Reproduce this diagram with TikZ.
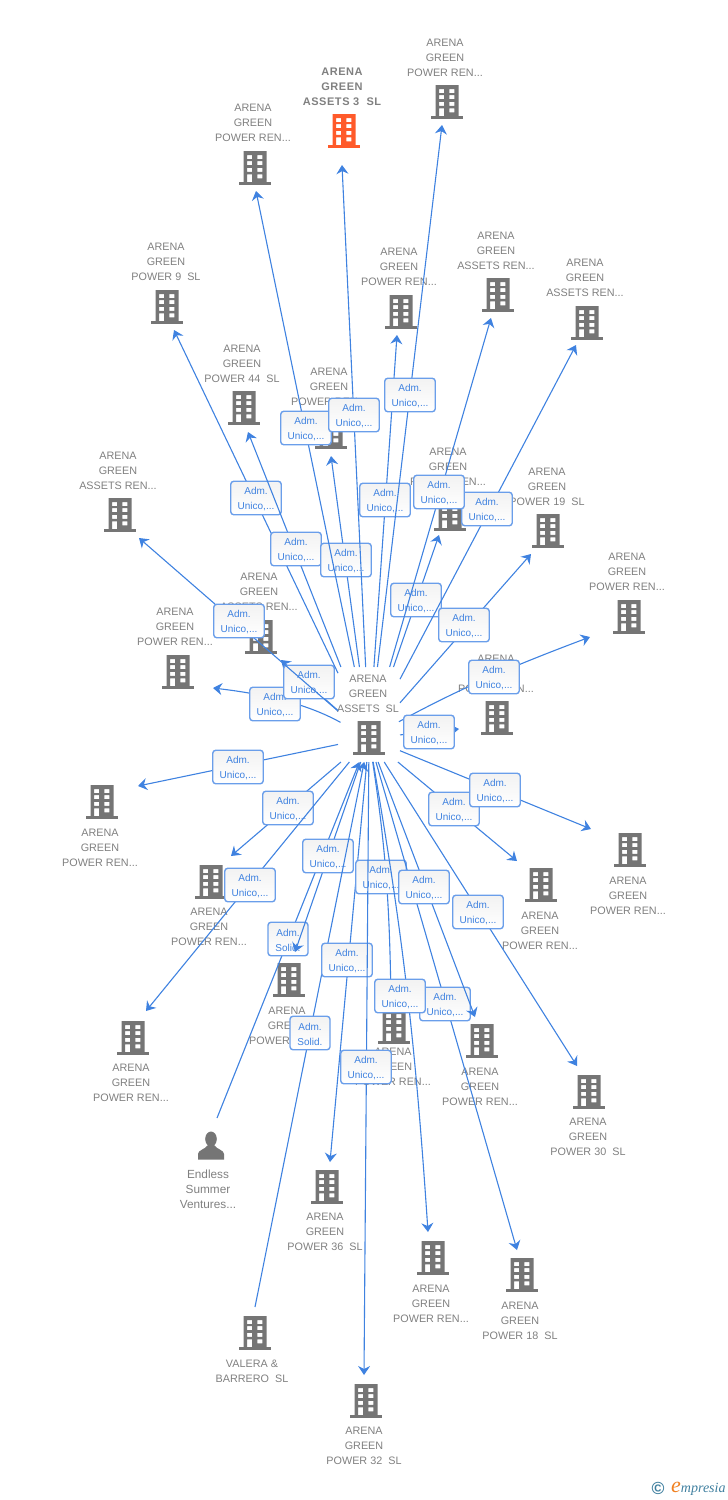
\documentclass[tikz,border=0pt]{standalone}
\usepackage{fontspec}
\setmainfont{Liberation Sans}
\newfontfamily\logofont{Liberation Serif}
\usetikzlibrary{arrows.meta}
\definecolor{linkblue}{HTML}{3F82E0}
\definecolor{boxedge}{HTML}{6A9EEA}
\definecolor{labelgray}{HTML}{808080}
\definecolor{icongray}{HTML}{757575}
\definecolor{iconorange}{HTML}{FF5A2A}
\definecolor{logoblue}{HTML}{3F7F9F}
\definecolor{logoorange}{HTML}{F08020}
\tikzset{
  name label/.style={text=labelgray,font=\fontsize{10.8}{15}\selectfont,align=center,inner sep=0pt,yshift=-1pt},
  owner label/.style={name label,font=\fontsize{11.8}{15}\selectfont},
  main label/.style={text=labelgray,font=\fontsize{11}{15}\selectfont\bfseries\addfontfeature{LetterSpace=5},align=center,inner sep=0pt,yshift=-1pt},
  iconspot/.style={minimum width=32pt,minimum height=34pt,inner sep=0pt},
  link/.style={draw=linkblue,line width=1.1pt,-{Stealth[length=9pt,width=12pt,inset=3pt]}},
  tag/.style={draw=boxedge,line width=1.4pt,rounded corners=3pt,top color=black!5,bottom color=white,
    minimum width=50.5pt,minimum height=33.5pt,inner sep=0pt,text=linkblue,align=center,
    font=\fontsize{10}{15}\selectfont},
  solidtag/.style={tag,minimum width=40pt}
}
% building icon: name, x, y, colour
\newcommand{\bldg}[4]{%
  \node[iconspot] (#1) at (#2,#3) {};
  \begin{scope}[shift={(#1.center)}]
    \fill[#4,even odd rule]
      (-11.5,-17) rectangle (11.5,14)
      (-7.8,-13) rectangle (-2.8,-9) (2.3,-13) rectangle (7.3,-9)
      (-7.8,-7) rectangle (-2.8,-3) (2.3,-7) rectangle (7.3,-3)
      (-7.8,-0.2) rectangle (-2.8,3.8) (2.3,-0.2) rectangle (7.3,3.8)
      (-7.8,6.3) rectangle (-2.8,14) (2.3,6.3) rectangle (7.3,10.3);
    \fill[#4] (-16,14) rectangle (16,17);
  \end{scope}}
% start distance of a connector from the hub icon centre
\newcommand{\hubgap}[2]{%
  \pgfmathsetmacro{\ddx}{abs(#1-369)+0.01}%
  \pgfmathsetmacro{\ddy}{abs(#2-738)+0.01}%
  \pgfmathsetmacro{\tlim}{min(31/\ddx,(#2<738?71:24)/\ddy)}%
  \pgfmathsetmacro{\hgap}{\tlim*veclen(\ddx,\ddy)}}
% outgoing connector: [to options] id, tip x, tip y, box x, box y
\newcommand{\lnk}[6][]{%
  \hubgap{#3}{#4}%
  \coordinate (tip#2) at (#3,#4);
  \draw[link,shorten <=\hgap pt] (hub.center) to[#1] (tip#2);
  \node[tag] (box#2) at (#5,#6) {\rule{0pt}{9.3pt}Adm.\\Unico,...};}
% incoming connector: id, start x, start y, box x, box y, box text
\newcommand{\inlnk}[6]{%
  \hubgap{#2}{#3}%
  \coordinate (src#1) at (#2,#3);
  \draw[link,shorten >=\hgap pt] (src#1) -- (hub.center);
  \node[solidtag] (box#1) at (#4,#5) {\rule{0pt}{9.3pt}#6};}
\begin{document}
\begin{tikzpicture}[x=1pt,y=-1pt]
\useasboundingbox (0,0) rectangle (728,1500);
% target nodes, label above icon
\node[name label] (l1) at (445,57) {ARENA\\GREEN\\POWER REN...};
\bldg{n1}{447}{102}{icongray}
\node[main label] (l2) at (342,86) {ARENA\\GREEN\\ASSETS 3~~SL};
\bldg{n2}{344}{131}{iconorange}
\node[name label] (l3) at (253,122) {ARENA\\GREEN\\POWER REN...};
\bldg{n3}{255}{168}{icongray}
\node[name label] (l4) at (166,261) {ARENA\\GREEN\\POWER 9~~SL};
\bldg{n4}{167}{307}{icongray}
\node[name label] (l5) at (399,266) {ARENA\\GREEN\\POWER REN...};
\bldg{n5}{401}{312}{icongray}
\node[name label] (l6) at (496,250) {ARENA\\GREEN\\ASSETS REN...};
\bldg{n6}{498}{295}{icongray}
\node[name label] (l7) at (585,277) {ARENA\\GREEN\\ASSETS REN...};
\bldg{n7}{587}{323}{icongray}
\node[name label] (l8) at (242,363) {ARENA\\GREEN\\POWER 44~~SL};
\bldg{n8}{244}{408}{icongray}
\node[name label] (l9) at (329,386) {ARENA\\GREEN\\POWER REN...};
\bldg{n9}{331}{432}{icongray}
\node[name label] (l10) at (118,470) {ARENA\\GREEN\\ASSETS REN...};
\bldg{n10}{120}{515}{icongray}
\node[name label] (l11) at (448,466) {ARENA\\GREEN\\POWER REN...};
\bldg{n11}{450}{514}{icongray}
\node[name label] (l12) at (547,486) {ARENA\\GREEN\\POWER 19~~SL};
\bldg{n12}{548}{531}{icongray}
\node[name label] (l13) at (627,571) {ARENA\\GREEN\\POWER REN...};
\bldg{n13}{629}{617}{icongray}
\node[name label] (l14) at (259,591) {ARENA\\GREEN\\ASSETS REN...};
\bldg{n14}{261}{637}{icongray}
\node[name label] (l15) at (175,626) {ARENA\\GREEN\\POWER REN...};
\bldg{n15}{178}{672}{icongray}
\node[name label] (l16) at (496,673) {ARENA\\GREEN\\POWER REN...};
\bldg{n16}{497}{718}{icongray}
% hub
\node[name label] (lhub) at (368,693) {ARENA\\GREEN\\ASSETS~~SL};
\bldg{hub}{369}{738}{icongray}
% target nodes, label below icon
\bldg{n17}{102}{802}{icongray}
\node[name label] (l17) at (100,847) {ARENA\\GREEN\\POWER REN...};
\bldg{n18}{211}{882}{icongray}
\node[name label] (l18) at (209,926) {ARENA\\GREEN\\POWER REN...};
\bldg{n19}{133}{1038}{icongray}
\node[name label] (l19) at (131,1082) {ARENA\\GREEN\\POWER REN...};
\bldg{n20}{289}{980}{icongray}
\node[name label] (l20) at (287,1025) {ARENA\\GREEN\\POWER REN...};
\bldg{n21}{394}{1027}{icongray}
\node[name label] (l21) at (393,1066) {ARENA\\GREEN\\POWER REN...};
\bldg{n22}{482}{1041}{icongray}
\node[name label] (l22) at (480,1086) {ARENA\\GREEN\\POWER REN...};
\bldg{n23}{541}{885}{icongray}
\node[name label] (l23) at (540,930) {ARENA\\GREEN\\POWER REN...};
\bldg{n24}{630}{850}{icongray}
\node[name label] (l24) at (628,895) {ARENA\\GREEN\\POWER REN...};
\bldg{n25}{589}{1092}{icongray}
\node[name label] (l25) at (588,1136) {ARENA\\GREEN\\POWER 30~~SL};
\bldg{n26}{327}{1187}{icongray}
\node[name label] (l26) at (325,1231) {ARENA\\GREEN\\POWER 36~~SL};
\bldg{n27}{433}{1258}{icongray}
\node[name label] (l27) at (431,1303) {ARENA\\GREEN\\POWER REN...};
\bldg{n28}{522}{1275}{icongray}
\node[name label] (l28) at (520,1320) {ARENA\\GREEN\\POWER 18~~SL};
\bldg{n29}{366}{1401}{icongray}
\node[name label] (l29) at (364,1445) {ARENA\\GREEN\\POWER 32~~SL};
% owners
\node[iconspot] (n30) at (211,1146) {};
\fill[icongray] (211,1139) ellipse (5.8 and 7.5);
\fill[icongray] (198,1159.5) -- (198,1154) .. controls (198,1150) and (205,1149.5) .. (208,1145) -- (214,1145) .. controls (217,1149.5) and (224,1150) .. (224,1154) -- (224,1159.5) -- cycle;
\node[owner label] (l30) at (208,1188) {Endless\\Summer\\Ventures...};
\bldg{n31}{255}{1333}{icongray}
\node[name label] (l31) at (252,1370.5) {VALERA \&\\BARRERO~~SL};
% connectors with their tags, in stacking order
\lnk[bend right=11]{15}{213}{688}{275}{704}
\lnk{14}{281}{660}{309}{682}
\lnk{10}{139}{538}{239}{621}
\lnk{4}{174}{330}{256}{498}
\lnk{8}{248}{432}{296}{549}
\lnk{9}{331}{456}{346}{560}
\lnk{3}{256}{191}{306}{428}
\lnk{2}{342}{165}{354}{415}
\lnk{5}{397}{335}{385}{500}
\lnk{1}{442}{125}{410}{395}
\lnk{11}{439}{535}{416}{600}
\lnk{7}{576}{345}{487}{509}
\lnk{6}{491}{318}{439}{492}
\lnk{12}{531}{554}{464}{625}
\lnk[bend left=4]{13}{590}{637}{494}{677}
\lnk{16}{459}{729}{429}{732}
\lnk{23}{517}{861}{454}{809}
\lnk{24}{591}{829}{495}{790}
\lnk{17}{138}{786}{238}{767}
\lnk{18}{231}{856}{288}{808}
\lnk{19}{146}{1011}{250}{885}
\inlnk{30}{217}{1118}{288}{939}{Adm.\\Solid.}
\lnk{20}{295}{952}{328}{856}
\inlnk{31}{255}{1307}{310}{1033}{Adm.\\Solid.}
\lnk{26}{330}{1162}{347}{960}
\lnk[bend left=4]{21}{391}{1005}{381}{877}
\lnk{29}{364}{1375}{366}{1067}
\lnk{28}{517}{1250}{445}{1004}
\lnk[bend left=3]{27}{428}{1232}{400}{996}
\lnk{22}{475}{1017}{424}{887}
\lnk{25}{577}{1066}{478}{912}
% logo
\node[text=logoblue,font=\bfseries\fontsize{17.5}{17.5}\selectfont,inner sep=0pt] (copy) at (658,1488.5) {©};
\node[anchor=west,inner sep=0pt,text=logoblue,font=\logofont\itshape\fontsize{14}{14}\selectfont] (logo) at (671,1489) {{\color{logoorange}\fontsize{22}{22}\selectfont e}mpresia};
\end{tikzpicture}
\end{document}
